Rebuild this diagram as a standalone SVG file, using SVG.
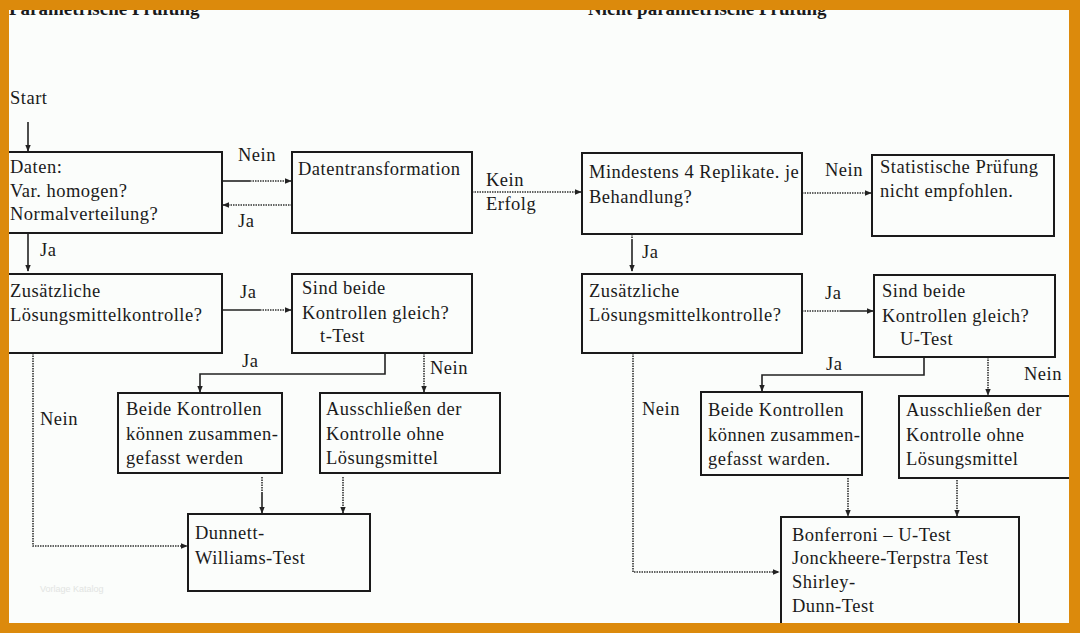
<svg xmlns="http://www.w3.org/2000/svg" width="1080" height="633" viewBox="0 0 1080 633">
<style>
text{font-family:"Liberation Serif","Times New Roman",serif;font-size:18.5px;letter-spacing:0.5px;fill:#1a1a1a}
.title{font-weight:bold;font-size:19px;letter-spacing:0}
.box{fill:none;stroke:#1a1a1a;stroke-width:2}
.c{fill:none;stroke:#222;stroke-width:1.6}
.d{fill:none;stroke:#333;stroke-width:1.6;stroke-dasharray:1.5 1}
.wm{font-family:"Liberation Sans",Arial,sans-serif;font-size:9px;fill:#e2e4e2;letter-spacing:0}
</style>
<defs>
<marker id="ah" viewBox="0 0 10 10" refX="9" refY="5" markerWidth="7" markerHeight="7" orient="auto" markerUnits="userSpaceOnUse">
<path d="M0,1 L10,5 L0,9 Z" fill="#222"/>
</marker>
</defs>
<rect x="0" y="0" width="1080" height="633" fill="#fbfdfb"/>

<text class="title" x="9" y="15">Parametrische Prüfung</text>
<text class="title" x="588" y="15">Nicht parametrische Prüfung</text>
<text x="10" y="104">Start</text>
<text class="wm" x="40" y="592">Vorlage Katalog</text>

<g id="connectors">
<path class="c" d="M28,122 V151" marker-end="url(#ah)"/>
<path class="c" d="M222,181 H250"/>
<path class="d" d="M250,181 H291" marker-end="url(#ah)"/>
<path class="d" d="M292,205 H223" marker-end="url(#ah)"/>
<path class="d" d="M472,192 H581" marker-end="url(#ah)"/>
<path class="c" d="M28,233 V271" marker-end="url(#ah)"/>
<path class="c" d="M222,310 H260"/>
<path class="d" d="M260,310 H291" marker-end="url(#ah)"/>
<path class="c" d="M385,353 V374 H200 V392" marker-end="url(#ah)"/>
<path class="d" d="M424,353 V392" marker-end="url(#ah)"/>
<path class="d" d="M33,353 V546 H187" marker-end="url(#ah)"/>
<path class="d" d="M262,477 V492"/>
<path class="c" d="M262,492 V513" marker-end="url(#ah)"/>
<path class="d" d="M343,477 V513" marker-end="url(#ah)"/>

<path class="d" d="M802,193 H871" marker-end="url(#ah)"/>
<path class="d" d="M632,234 V240"/>
<path class="c" d="M632,240 V271" marker-end="url(#ah)"/>
<path class="d" d="M802,311 H840"/>
<path class="c" d="M840,311 H873" marker-end="url(#ah)"/>
<path class="c" d="M924,357 V375 H762 V391" marker-end="url(#ah)"/>
<path class="d" d="M988,357 V395" marker-end="url(#ah)"/>
<path class="d" d="M633,353 V572 H779" marker-end="url(#ah)"/>
<path class="d" d="M848,478 V516" marker-end="url(#ah)"/>
<path class="d" d="M957,480 V516" marker-end="url(#ah)"/>

<text x="238" y="161">Nein</text>
<text x="238" y="227">Ja</text>
<text x="486" y="186">Kein</text>
<text x="486" y="210">Erfolg</text>
<text x="40" y="256">Ja</text>
<text x="240" y="298">Ja</text>
<text x="242" y="367">Ja</text>
<text x="430" y="374">Nein</text>
<text x="40" y="425">Nein</text>
<text x="825" y="176">Nein</text>
<text x="642" y="258">Ja</text>
<text x="825" y="299">Ja</text>
<text x="826" y="370">Ja</text>
<text x="1024" y="380">Nein</text>
<text x="642" y="415">Nein</text>
</g>

<g id="daten">
<rect class="box" x="4" y="152" width="218" height="81"/>
<text x="10" y="173">Daten:</text>
<text x="10" y="197">Var. homogen?</text>
<text x="10" y="220">Normalverteilung?</text>
</g>
<g id="transformation">
<rect class="box" x="292" y="152" width="180" height="81"/>
<text x="298" y="175">Datentransformation</text>
</g>
<g id="zusaetzlich-p">
<rect class="box" x="4" y="274" width="218" height="79"/>
<text x="10" y="297">Zusätzliche</text>
<text x="10" y="321">Lösungsmittelkontrolle?</text>
</g>
<g id="gleich-p">
<rect class="box" x="292" y="274" width="180" height="79"/>
<text x="302" y="294">Sind beide</text>
<text x="302" y="319">Kontrollen gleich?</text>
<text x="320" y="342">t-Test</text>
</g>
<g id="beide-p">
<rect class="box" x="118" y="393" width="164" height="80"/>
<text x="126" y="415">Beide Kontrollen</text>
<text x="126" y="440">können zusammen-</text>
<text x="126" y="464">gefasst werden</text>
</g>
<g id="ausschl-p">
<rect class="box" x="320" y="393" width="180" height="80"/>
<text x="326" y="415">Ausschließen der</text>
<text x="326" y="440">Kontrolle ohne</text>
<text x="326" y="464">Lösungsmittel</text>
</g>
<g id="dunnett">
<rect class="box" x="188" y="514" width="182" height="77"/>
<text x="195" y="539">Dunnett-</text>
<text x="195" y="564">Williams-Test</text>
</g>

<g id="replikate">
<rect class="box" x="582" y="153" width="220" height="81"/>
<text x="589" y="178" letter-spacing="0.1">Mindestens 4 Replikate. je</text>
<text x="589" y="203">Behandlung?</text>
</g>
<g id="nicht-empfohlen">
<rect class="box" x="872" y="155" width="182" height="81"/>
<text x="880" y="173">Statistische Prüfung</text>
<text x="880" y="197">nicht empfohlen.</text>
</g>
<g id="zusaetzlich-np">
<rect class="box" x="582" y="274" width="220" height="79"/>
<text x="589" y="297">Zusätzliche</text>
<text x="589" y="321">Lösungsmittelkontrolle?</text>
</g>
<g id="gleich-np">
<rect class="box" x="874" y="275" width="181" height="82"/>
<text x="882" y="297">Sind beide</text>
<text x="882" y="322">Kontrollen gleich?</text>
<text x="900" y="345">U-Test</text>
</g>
<g id="beide-np">
<rect class="box" x="701" y="392" width="161" height="83"/>
<text x="708" y="416">Beide Kontrollen</text>
<text x="708" y="441">können zusammen-</text>
<text x="708" y="465">gefasst warden.</text>
</g>
<g id="ausschl-np">
<rect class="box" x="899" y="396" width="180" height="82"/>
<text x="906" y="416">Ausschließen der</text>
<text x="906" y="441">Kontrolle ohne</text>
<text x="906" y="465">Lösungsmittel</text>
</g>
<g id="bonferroni">
<rect class="box" x="781" y="517" width="238" height="130"/>
<text x="792" y="541">Bonferroni – U-Test</text>
<text x="792" y="564">Jonckheere-Terpstra Test</text>
<text x="792" y="588">Shirley-</text>
<text x="792" y="612">Dunn-Test</text>
</g>

<g id="frame" fill="#dc8a0c">
<rect x="0" y="0" width="1080" height="10"/>
<rect x="0" y="0" width="9" height="633"/>
<rect x="1069" y="0" width="11" height="633"/>
<rect x="0" y="623" width="1080" height="10"/>
</g>
</svg>
